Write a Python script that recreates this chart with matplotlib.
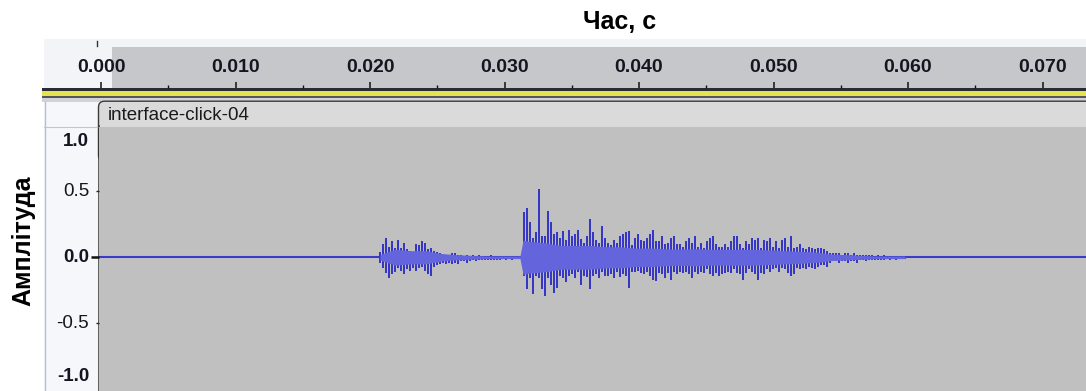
import numpy as np
import matplotlib
matplotlib.use("Agg")
from matplotlib import pyplot as plt
from matplotlib import transforms
from matplotlib.patches import Rectangle, FancyBboxPatch

plt.rcParams['font.family'] = ['Liberation Sans', 'DejaVu Sans']

W, H = 1086, 391

# peak envelope of the clip: one (max, min) pair every 0.223 ms starting at 20.74 ms
peak_t0 = 0.02074
peak_dt = 0.000223
peak_max = [0.04, 0.10, 0.15, 0.08, 0.12, 0.07, 0.13, 0.07, 0.11, 0.06,
            0.05, 0.02, 0.10, 0.09, 0.12, 0.11, 0.06, 0.07, 0.05, 0.04,
            0.03, 0.02, 0.01, 0.02, 0.03, 0.03, 0.02, 0.02, 0.01, 0.02,
            0.01, 0.02, 0.01, 0.02, 0.01, 0.01, 0.01, 0.02, 0.01, 0.01,
            0.01, 0.01, 0.01, 0.01, 0.01, 0.01, 0.01, 0.01,
            0.34, 0.37, 0.27, 0.15, 0.19, 0.52, 0.16, 0.16, 0.35, 0.27,
            0.18, 0.19, 0.15, 0.20, 0.13, 0.21, 0.16, 0.18, 0.21, 0.14,
            0.11, 0.16, 0.29, 0.19, 0.13, 0.11, 0.24, 0.15, 0.11, 0.09,
            0.13, 0.11, 0.16, 0.18, 0.19, 0.20, 0.09, 0.15, 0.18, 0.13,
            0.12, 0.15, 0.18, 0.21, 0.12, 0.12, 0.16, 0.10, 0.11, 0.15,
            0.16, 0.10, 0.10, 0.08, 0.12, 0.15, 0.11, 0.16, 0.08, 0.11,
            0.07, 0.12, 0.15, 0.16, 0.10, 0.08, 0.08, 0.10, 0.08, 0.12,
            0.16, 0.16, 0.10, 0.07, 0.12, 0.10, 0.15, 0.13, 0.15, 0.07,
            0.13, 0.12, 0.15, 0.08, 0.12, 0.07, 0.13, 0.15, 0.08, 0.16,
            0.07, 0.08, 0.10, 0.07, 0.06, 0.08, 0.07, 0.06, 0.07, 0.07,
            0.06, 0.05, 0.03, 0.03, 0.03, 0.03, 0.02, 0.03, 0.03, 0.02,
            0.03, 0.02, 0.02, 0.02, 0.02, 0.02, 0.02, 0.01, 0.02, 0.01,
            0.02, 0.01, 0.01, 0.01, 0.01, 0.01, 0.01, 0.01]
peak_min = [-0.04, -0.08, -0.12, -0.16, -0.13, -0.11, -0.08, -0.10, -0.13, -0.09,
            -0.10, -0.08, -0.10, -0.08, -0.07, -0.10, -0.13, -0.14, -0.07, -0.06,
            -0.05, -0.04, -0.05, -0.04, -0.05, -0.04, -0.05, -0.03, -0.03, -0.04,
            -0.03, -0.02, -0.03, -0.02, -0.02, -0.02, -0.02, -0.02, -0.02, -0.02,
            -0.02, -0.01, -0.02, -0.01, -0.02, -0.01, -0.01, -0.01,
            -0.14, -0.24, -0.16, -0.28, -0.14, -0.16, -0.24, -0.29, -0.16, -0.21,
            -0.27, -0.23, -0.14, -0.16, -0.19, -0.14, -0.13, -0.16, -0.11, -0.21,
            -0.14, -0.15, -0.24, -0.14, -0.13, -0.16, -0.11, -0.14, -0.14, -0.13,
            -0.16, -0.11, -0.15, -0.13, -0.14, -0.23, -0.11, -0.11, -0.10, -0.12,
            -0.13, -0.11, -0.14, -0.17, -0.18, -0.12, -0.13, -0.16, -0.12, -0.17,
            -0.11, -0.13, -0.11, -0.12, -0.11, -0.13, -0.16, -0.11, -0.13, -0.11,
            -0.12, -0.09, -0.13, -0.14, -0.12, -0.14, -0.13, -0.12, -0.11, -0.12,
            -0.09, -0.12, -0.13, -0.17, -0.12, -0.09, -0.11, -0.13, -0.17, -0.12,
            -0.13, -0.09, -0.11, -0.09, -0.08, -0.11, -0.08, -0.09, -0.12, -0.14,
            -0.13, -0.08, -0.09, -0.08, -0.09, -0.07, -0.08, -0.09, -0.07, -0.06,
            -0.06, -0.07, -0.04, -0.03, -0.03, -0.04, -0.03, -0.03, -0.04, -0.03,
            -0.03, -0.04, -0.02, -0.02, -0.03, -0.02, -0.02, -0.02, -0.02, -0.02,
            -0.02, -0.01, -0.02, -0.01, -0.02, -0.01, -0.01, -0.01]

# rms level of the clip (s, amplitude)
rms_t = [0.02074, 0.02186, 0.02297, 0.02409, 0.02520, 0.02632, 0.02743, 0.02855,
         0.02967, 0.03115, 0.03138, 0.03190, 0.03301, 0.03413, 0.03524, 0.03636,
         0.03747, 0.03859, 0.03970, 0.04082, 0.04193, 0.04305, 0.04416, 0.04528,
         0.04639, 0.04751, 0.04862, 0.04974, 0.05086, 0.05197, 0.05309, 0.05420,
         0.05532, 0.05643, 0.05755, 0.05866, 0.05978]
rms_val = [0.02, 0.06, 0.05, 0.05, 0.03, 0.02, 0.015, 0.01,
           0.01, 0.01, 0.13, 0.12, 0.11, 0.09, 0.09, 0.09,
           0.08, 0.08, 0.07, 0.07, 0.065, 0.06, 0.065, 0.06,
           0.06, 0.06, 0.06, 0.055, 0.05, 0.045, 0.04, 0.025,
           0.02, 0.015, 0.01, 0.01, 0.01]

time_ticks = [0.000, 0.010, 0.020, 0.030, 0.040, 0.050, 0.060, 0.070]
time_labels = ["0.000", "0.010", "0.020", "0.030", "0.040", "0.050", "0.060", "0.070"]
time_minor = [0.005, 0.015, 0.025, 0.035, 0.045, 0.055, 0.065]
amp_ticks = [1.0, 0.5, 0.0, -0.5, -1.0]
amp_labels = ["1.0", "0.5", "0.0", "-0.5", "-1.0"]
amp_bold = [True, False, True, False, True]

clip_name = "interface-click-04"

# screen layout in pixels
PX_PER_S = 13450.0
X_T0 = 101.0      # x pixel of t = 0
Y_ZERO = 257.3    # y pixel of amplitude 0
PX_PER_AMP = 132.0


def px_box(x0, y0, x1, y1):
    return [x0 / W, 1 - y1 / H, (x1 - x0) / W, (y1 - y0) / H]


def t_at(x):
    return (x - X_T0) / PX_PER_S


def amp_at(y):
    return (Y_ZERO - y) / PX_PER_AMP


def rect(ax, x0, y0, x1, y1, color):
    ax.add_patch(Rectangle((x0, y0), x1 - x0, y1 - y0, facecolor=color,
                           edgecolor='none'))


fig = plt.figure(figsize=(W / 100, H / 100), dpi=100)
fig.patch.set_facecolor('white')

# window chrome behind the axes
bg = fig.add_axes([0, 0, 1, 1], zorder=0)
bg.set_xlim(0, W)
bg.set_ylim(H, 0)
bg.axis('off')
rect(bg, 44, 39, W, 88, '#f3f4f8')
rect(bg, 112, 46.5, W, 88, '#c6c7cb')
rect(bg, 42, 88, W, 91, '#2b2b36')
rect(bg, 42, 91, W, 96, '#e4e44e')
rect(bg, 42, 96, W, 98, '#55555c')
rect(bg, 42, 98, W, 101.5, '#d2d2d7')
rect(bg, 44, 101.5, 99, H, '#f6f7fb')
bg.plot([45, 45], [101.5, H], color='#b5bfd6', lw=1)
bg.plot([44, 99], [126.7, 126.7], color='#c3c5cc', lw=0.8)
bg.plot([96.5, 96.5], [41, 46], color='#333333', lw=1)
bg.add_patch(FancyBboxPatch((98.5, 101.2), W, 60,
                            boxstyle='round,pad=0,rounding_size=6',
                            facecolor='#dadada', edgecolor='#3a3a3a', lw=1))
bg.text(108, 115, clip_name, fontsize=13.5, color='#1a1a1a',
        ha='left', va='center')

# time ruler
ruler = fig.add_axes(px_box(42, 39, W, 88), zorder=1)
ruler.set_xlim(t_at(42), t_at(W))
ruler.set_ylim(0, 1)
ruler.patch.set_alpha(0)
for s in ruler.spines.values():
    s.set_visible(False)
ruler.set_yticks([])
ruler.set_xticks(time_ticks)
ruler.set_xticks(time_minor, minor=True)
ruler.tick_params(axis='x', which='major', direction='in', length=4.5,
                  width=1.1, color='#111111', labelbottom=False)
ruler.tick_params(axis='x', which='minor', direction='in', length=2.3,
                  width=1.0, color='#111111')
lbl_tr = transforms.blended_transform_factory(ruler.transData, ruler.transAxes)
for tv, tl in zip(time_ticks, time_labels):
    ruler.text(tv, (88 - 67) / (88 - 39), tl, transform=lbl_tr, ha='center',
               va='center', fontsize=14, fontweight='bold', color='#151520')

# waveform
wave = fig.add_axes(px_box(99, 126.5, W, H), zorder=2)
wave.set_xlim(t_at(99), t_at(W))
wave.set_ylim(amp_at(H), amp_at(126.5))
wave.set_facecolor('#c0c0c0')
for s in wave.spines.values():
    s.set_visible(False)
wave.set_xticks([])
wave.axhline(0, color='#3a3acb', lw=1.5, zorder=1)
peak_t = peak_t0 + peak_dt * np.arange(len(peak_max))
wave.vlines(peak_t, peak_min, peak_max, color='#3434c6', lw=1.4, zorder=2)
rms = np.array(rms_val)
wave.fill_between(rms_t, -rms, rms, color='#6464dc', lw=0, zorder=3)

# amplitude ruler
wave.set_yticks([0.5, -0.5])
wave.set_yticks([0.0], minor=True)
wave.tick_params(axis='y', which='major', direction='out', length=2.5,
                 width=1.0, color='#222222', labelleft=False)
wave.tick_params(axis='y', which='minor', direction='out', length=6,
                 width=1.8, color='#111111', labelleft=False)
amp_tr = transforms.blended_transform_factory(wave.transAxes, wave.transData)
lbl_x = (89 - 99) / (W - 99)
for av, al, ab in zip(amp_ticks, amp_labels, amp_bold):
    tr = amp_tr
    if av == 1.0:
        tr = transforms.offset_copy(amp_tr, fig=fig, y=-16.4, units='dots')
    elif av == -1.0:
        tr = transforms.offset_copy(amp_tr, fig=fig, y=12.6, units='dots')
    wave.text(lbl_x, av, al, transform=tr, ha='right', va='center',
              fontsize=13.5, fontweight='bold' if ab else 'normal',
              color='#151520', clip_on=False)

fig.add_artist(plt.Line2D([98.8 / W, 98.8 / W], [0, 1 - 126 / H],
                          color='#333333', lw=1.1))

fig.text(620 / W, 1 - 22 / H, "Час, с", fontsize=18, fontweight='bold',
         ha='center', va='center')
fig.text(23 / W, 1 - 241 / H, "Амплітуда", fontsize=18, fontweight='bold',
         rotation=90, ha='center', va='center')

fig.savefig("out.png", dpi=100, facecolor='white')
